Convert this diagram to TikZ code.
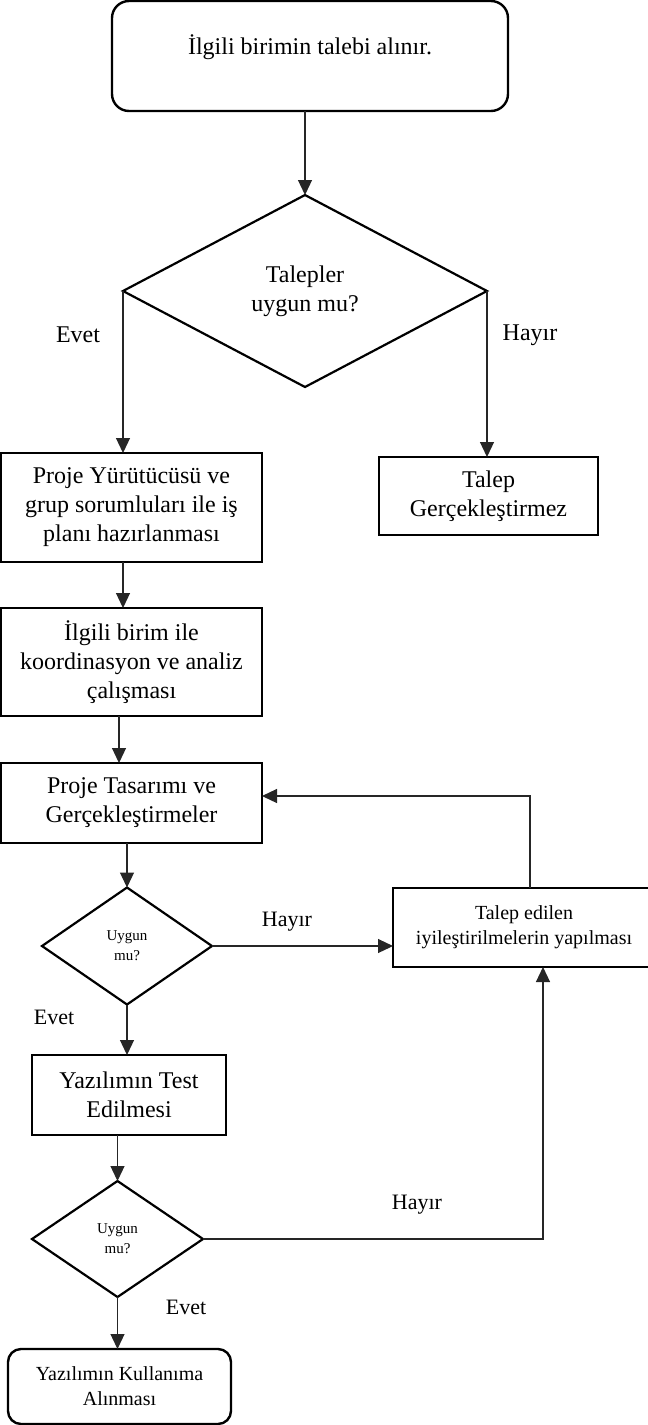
\documentclass[tikz,border=0pt]{standalone}
\usepackage{fontspec}
\setmainfont{Liberation Serif}
\usetikzlibrary{shapes.geometric,arrows.meta}
\newcommand\fsz[2]{\fontsize{#1}{#2}\selectfont}
\begin{document}
\begin{tikzpicture}[x=1pt,y=-1pt,
  box/.style={draw, rectangle, line width=2.4pt, inner sep=0pt, outer sep=0pt, align=center},
  rbox/.style={box, rounded corners=#1},
  dia/.style={draw, diamond, line width=2.2pt, inner sep=0pt, outer sep=0pt, align=center},
  conn/.style={line width=1.2pt, draw=black!85, -{Triangle[length=15pt,width=14pt]}},
  lbl/.style={inner sep=0pt, align=center},
  big/.style={font=\fsz{24}{29}},
  mid/.style={font=\fsz{20}{25}},
  lab/.style={font=\fsz{22}{26}},
  tiny/.style={font=\fsz{15}{20}}
]
\useasboundingbox (0,0) rectangle (648,1425);
\clip (0,0) rectangle (648,1425);

% helper coordinates
\coordinate (x123) at (123,0);
\coordinate (x119) at (119,0);
\coordinate (x530) at (530,0);
\coordinate (x543) at (543,0);
\coordinate (loopy) at (0,796);

% nodes
\node[rbox=17pt, minimum width=396pt, minimum height=110pt] (start) at (310,56) {};
\node[lbl, big] (starttxt) at (310,47) {İlgili birimin talebi alınır.};

\node[dia, minimum width=364pt, minimum height=192pt, big] (dec1) at (305,291) {Talepler\\uygun mu?};
\node[lbl, big] (evet1) at (78,335) {Evet};
\node[lbl, big] (hayir1) at (530,335) {Hayır};

\node[box, minimum width=261pt, minimum height=109pt, big] (b1) at (131.5,507.5)
  {Proje Yürütücüsü ve\\grup sorumluları ile iş\\planı hazırlanması};
\node[box, minimum width=219pt, minimum height=78pt, big] (rej) at (488.5,496)
  {Talep\\Gerçekleştirmez};
\node[box, minimum width=261pt, minimum height=108pt, big] (b2) at (131.5,662)
  {İlgili birim ile\\koordinasyon ve analiz\\çalışması};
\node[box, minimum width=261pt, minimum height=80pt, big] (b3) at (131.5,803)
  {Proje Tasarımı ve\\Gerçekleştirmeler};

\node[dia, minimum width=170pt, minimum height=117pt, tiny] (dec2) at (127,946) {Uygun\\mu?};
\node[lbl, lab] (hayir2) at (287,922) {Hayır};
\node[lbl, lab] (evet2) at (54,1017) {Evet};
\node[box, minimum width=262pt, minimum height=79pt, mid] (imp) at (524,927.5)
  {Talep edilen\\iyileştirilmelerin yapılması};

\node[box, minimum width=194pt, minimum height=80pt, big] (test) at (129,1095)
  {Yazılımın Test\\Edilmesi};

\node[dia, minimum width=171pt, minimum height=116pt, tiny] (dec3) at (117.5,1239) {Uygun\\mu?};
\node[lbl, lab] (hayir3) at (417,1205) {Hayır};
\node[lbl, lab] (evet3) at (186,1307) {Evet};

\node[rbox=13pt, minimum width=223pt, minimum height=75pt, mid] (endb) at (119.5,1386.5)
  {Yazılımın Kullanıma\\Alınması};

% connectors
\draw[conn] (dec1.north |- start.south) -- (dec1.north);
\draw[conn] (dec1.west) -- (dec1.west |- b1.north);
\draw[conn] (dec1.east) -- (dec1.east |- rej.north);
\draw[conn] (b1.south -| x123) -- (b2.north -| x123);
\draw[conn] (b2.south -| x119) -- (b3.north -| x119);
\draw[conn] (b3.south -| dec2.north) -- (dec2.north);
\draw[conn] (dec2.east) -- (dec2.east -| imp.west);
\draw[conn] (dec2.south) -- (dec2.south |- test.north);
\draw[conn] (test.south -| dec3.north) -- (dec3.north);
\draw[conn] (dec3.east) -| (imp.south -| x543);
\draw[conn] (dec3.south) -- (dec3.south |- endb.north);
\draw[conn] (imp.north -| x530) |- (b3.east |- loopy);
\end{tikzpicture}
\end{document}
